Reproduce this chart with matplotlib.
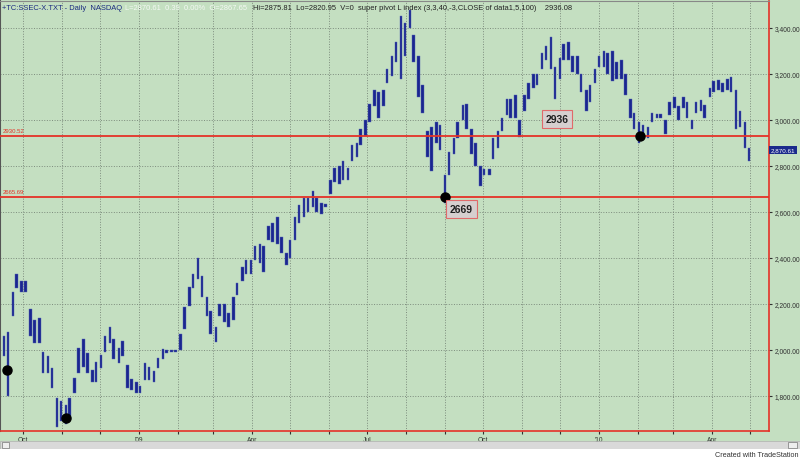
import matplotlib.pyplot as plt
import matplotlib.dates as mdates
import matplotlib.ticker as mticker
from matplotlib.patches import Rectangle
import numpy as np
import pandas as pd

# two bars per week (Tue, Fri), Sep 2008 - Apr 2010
week_start = '2008-09-16'
n_weeks = 85

highs = [2060, 2080, 2250, 2330, 2300, 2300, 2180, 2130, 2140, 1990,
         1975, 1920, 1790, 1780, 1760, 1790, 1880, 2010, 2050, 1985,
         1915, 1950, 1980, 2060, 2100, 2050, 2010, 2040, 1935, 1875,
         1860, 1845, 1945, 1925, 1910, 1965, 2005, 2000, 2000, 2000,
         2070, 2185, 2275, 2330, 2400, 2320, 2230, 2170, 2100, 2200,
         2200, 2160, 2230, 2290, 2360, 2390, 2390, 2450, 2460, 2450,
         2540, 2550, 2580, 2490, 2420, 2480, 2580, 2630, 2660, 2660,
         2690, 2660, 2640, 2635, 2740, 2790, 2800, 2820, 2790, 2890,
         2900, 2960, 3000, 3070, 3130, 3120, 3130, 3220, 3280, 3340,
         3450, 3420, 3478, 3370, 3280, 3150, 2950, 2970, 2990, 2980,
         2760, 2860, 2920, 2990, 3065, 3068, 2960, 2900, 2800, 2785,
         2785, 2920, 2950, 3010, 3090, 3090, 3110, 3000, 3110, 3160,
         3200, 3200, 3290, 3320, 3361, 3230, 3270, 3330, 3340, 3280,
         3280, 3200, 3130, 3150, 3220, 3280, 3300, 3290, 3300, 3250,
         3260, 3200, 3090, 3030, 2990, 2980, 2970, 3030, 3025, 3025,
         3000, 3080, 3100, 3060, 3100, 3080, 3000, 3080, 3085, 3065,
         3140, 3170, 3175, 3160, 3180, 3185, 3130, 3040, 2990, 2876]

lows = [1975, 1800, 2150, 2270, 2250, 2250, 2060, 2030, 2030, 1900,
        1900, 1835, 1664, 1690, 1678, 1700, 1815, 1900, 1925, 1900,
        1860, 1860, 1920, 1990, 2030, 1960, 1945, 1975, 1835, 1825,
        1815, 1815, 1870, 1870, 1860, 1920, 1960, 1985, 1990, 1990,
        2000, 2090, 2190, 2270, 2310, 2230, 2150, 2070, 2037, 2150,
        2120, 2100, 2130, 2240, 2300, 2330, 2330, 2390, 2380, 2340,
        2480, 2470, 2460, 2420, 2370, 2400, 2480, 2550, 2580, 2600,
        2620, 2600, 2590, 2620, 2680, 2730, 2720, 2740, 2740, 2820,
        2840, 2890, 2930, 2990, 3060, 3010, 3060, 3160, 3190, 3250,
        3180, 3280, 3400, 3250, 3100, 3030, 2840, 2780, 2900, 2870,
        2639, 2760, 2850, 2920, 3000, 2960, 2850, 2800, 2712, 2760,
        2760, 2830, 2880, 2950, 3020, 3010, 3010, 2925, 3040, 3090,
        3140, 3150, 3220, 3260, 3220, 3090, 3180, 3260, 3260, 3210,
        3200, 3120, 3040, 3080, 3160, 3230, 3230, 3200, 3170, 3180,
        3180, 3110, 3010, 2960, 2900, 2920, 2920, 2990, 3010, 3010,
        2940, 3020, 3050, 3000, 3050, 3010, 2960, 3030, 3040, 3010,
        3100, 3120, 3130, 3120, 3130, 3120, 2960, 2970, 2880, 2821]

pivot_lines = [2930.52, 2665.69]
pivot_dates = ['2008-09-18', '2008-11-04', '2009-09-01', '2010-02-03']
pivot_vals = [1913, 1705, 2665, 2930]
box_labels = ['2669', '2936']
box_dates = ['2009-09-14', '2009-11-29']
box_vals = [2613, 3004]
last_close = 2870.61
y_ticks = [1800, 2000, 2200, 2400, 2600, 2800, 3000, 3200, 3400]

bg = '#c4dfc1'
navy = '#1a2690'
red = '#e53228'
plt.rcParams['font.family'] = ['Liberation Sans', 'DejaVu Sans']

tue = pd.date_range(week_start, periods=n_weeks, freq='7D')
fri = tue + pd.Timedelta(days=3)
dates = pd.DatetimeIndex(np.column_stack([tue.values, fri.values]).ravel())
heights = np.array(highs) - np.array(lows)

fig = plt.figure(figsize=(8, 4.6), dpi=100, facecolor=bg)
ax = fig.add_axes([0.0, 1 - 432 / 460, 769 / 800, 430 / 460])
ax.set_facecolor(bg)

# price bars
ax.bar(dates, heights, bottom=lows, width=2.0, color=navy, edgecolor='#5563b5',
       linewidth=0.3, zorder=3)

for v in pivot_lines:
    ax.axhline(v, color=red, lw=1.3, zorder=4)
    ax.text(0.003, v + 12, f'{v:.2f}', transform=ax.get_yaxis_transform(),
            color=red, fontsize=4.3, va='bottom', ha='left')

ax.plot(pd.to_datetime(pivot_dates), pivot_vals, 'o', color='black',
        ms=6.5, zorder=5)

for lab, d, v in zip(box_labels, box_dates, box_vals):
    ax.text(pd.Timestamp(d), v, lab, fontsize=7.5, fontweight='bold',
            ha='center', va='center', color='#202020', zorder=6,
            bbox=dict(boxstyle='square,pad=0.35', fc='#d6cfcf', ec='#e06a6a', lw=0.8))

ax.set_xlim(pd.Timestamp('2008-09-12 18:00'), pd.Timestamp('2010-05-16'))
ax.set_ylim(1648, 3517)

ax.xaxis.set_major_locator(mdates.MonthLocator())


def month_label(x, pos):
    d = mdates.num2date(x)
    if d.month == 1:
        return "'" + d.strftime('%y')
    if d.month in (4, 7, 10):
        return d.strftime('%b')
    return ''


ax.xaxis.set_major_formatter(mticker.FuncFormatter(month_label))
ax.yaxis.tick_right()
ax.set_yticks(y_ticks)
ax.yaxis.set_major_formatter(mticker.FuncFormatter(lambda v, p: f'{v:,.2f}'))
ax.tick_params(axis='y', labelsize=4.8, length=2, pad=2, colors='#303030')
ax.tick_params(axis='x', labelsize=4.8, length=2, pad=1.5, colors='#303030')
ax.grid(True, ls=':', color='#7d8c7d', lw=0.7, zorder=1)

for side in ('right', 'bottom'):
    ax.spines[side].set_color(red)
    ax.spines[side].set_linewidth(1.2)
ax.spines['left'].set_color('#555555')
ax.spines['left'].set_linewidth(1.5)
ax.spines['top'].set_color('#888888')

# last price box
ax.text(1.002, last_close, f'{last_close:,.2f}', transform=ax.get_yaxis_transform(),
        fontsize=4.5, color='white', va='center', ha='left', zorder=7,
        bbox=dict(boxstyle='square,pad=0.25', fc='#1b2a8c', ec='none'))

# header line
ax.text(0.003, 0.993, '+TC:SSEC-X.TXT - Daily  NASDAQ', transform=ax.transAxes,
        fontsize=5.4, color='#1a2a80', va='top', ha='left')
ax.text(0.163, 0.993, 'L=2870.61  0.39  0.00%  O=2867.65', transform=ax.transAxes,
        fontsize=5.4, color='#f4f8f4', va='top', ha='left')
ax.text(0.329, 0.993,
        'Hi=2875.81  Lo=2820.95  V=0  super pivot L index (3,3,40,-3,CLOSE of data1,5,100)    2936.08',
        transform=ax.transAxes, fontsize=5.4, color='#222222', va='top', ha='left')

# scroll bar and credit
fig.patches.append(Rectangle((0, 1 - 450 / 460), 1, 8 / 460, transform=fig.transFigure,
                             fc='#d9d9d9', ec='#b0b0b0', lw=0.5, zorder=0))
fig.patches.append(Rectangle((0, 0), 1, 10 / 460, transform=fig.transFigure,
                             fc='white', ec='none', zorder=0))
fig.patches.append(Rectangle((2 / 800, 1 - 449 / 460), 7 / 800, 6 / 460,
                             transform=fig.transFigure, fc='#eeeeee', ec='#777777', lw=0.5))
fig.patches.append(Rectangle((788 / 800, 1 - 449 / 460), 9 / 800, 6 / 460,
                             transform=fig.transFigure, fc='#eeeeee', ec='#777777', lw=0.5))
fig.text(0.998, 0.002, 'Created with TradeStation', fontsize=5.2, color='#333333',
         ha='right', va='bottom')

fig.savefig('out.png', dpi=100, facecolor=bg)
